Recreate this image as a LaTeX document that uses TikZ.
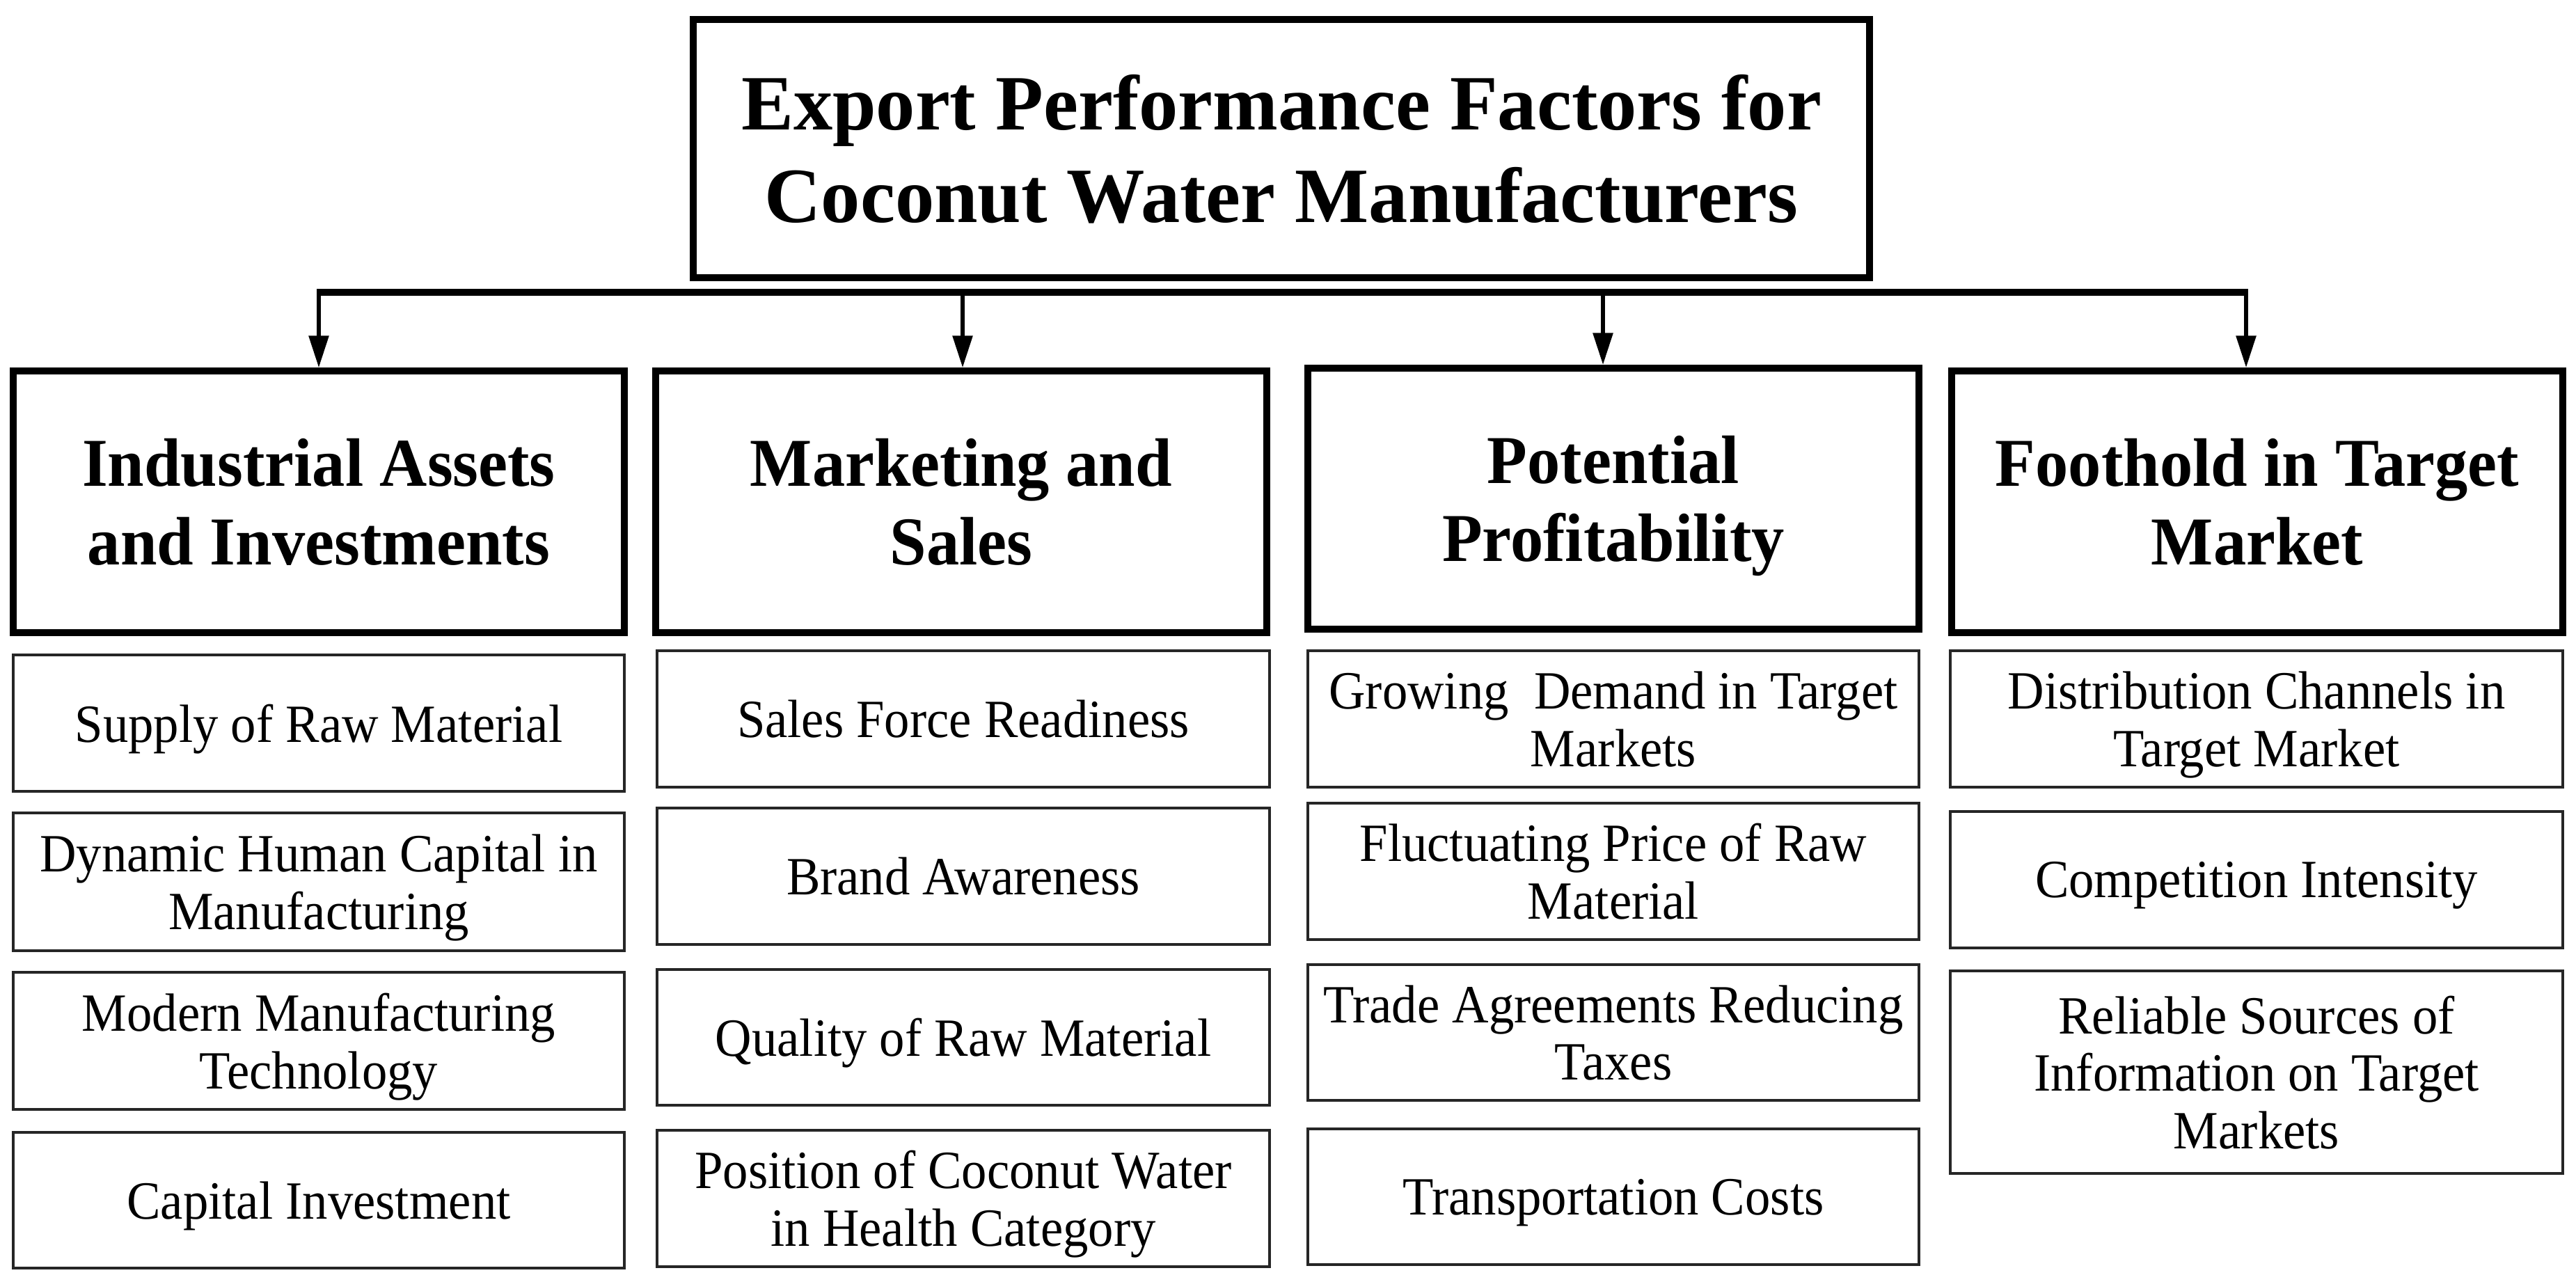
\documentclass[tikz,border=0pt]{standalone}
\usepackage{fontspec}
\setmainfont{Liberation Serif}
\newfontfamily\itemfont[FakeStretch=0.94]{Liberation Serif}
\newfontfamily\headfont[FakeStretch=0.96]{Liberation Serif}
\newfontfamily\titlefont{Liberation Serif}
\usetikzlibrary{arrows.meta}
\newcommand\pboxat[7]{%
  \node[#1, minimum width={(#5-#3)*0.28453pt}, minimum height={(#6-#4)*0.28453pt}]
    (#2) at ({(#3+#5)/200},{-(#4+#6)/200}) {#7};}
\tikzset{
  base/.style={draw=black, rectangle, align=center, inner sep=2pt, fill=white},
  titlebox/.style={base, line width=2.8pt, text depth=-4pt, font={\titlefont\bfseries\fontsize{32}{38}\selectfont}},
  headbox/.style={base, line width=2.8pt, text depth=0pt, font={\headfont\bfseries\fontsize{28}{32}\selectfont}},
  itembox/.style={base, draw=black!85, line width=1.2pt, text depth=0pt, font={\itemfont\fontsize{22}{23.5}\selectfont}},
  busline/.style={line width=2.8pt},
  downarrow/.style={line width=1.5pt, -{Triangle[length=13pt,width=8pt]}}
}
\begin{document}
\begin{tikzpicture}
\useasboundingbox (0,0) rectangle (37.01,-18.41);
% title
\pboxat{titlebox}{title}{996}{28}{2686}{399}{Export Performance Factors for\\Coconut Water Manufacturers}
% headers
\pboxat{headbox}{h1}{19}{533}{897}{909}{Industrial Assets\\and Investments}
\pboxat{headbox}{h2}{942}{533}{1820}{909}{Marketing and\\Sales}
\pboxat{headbox}{h3}{1879}{529}{2757}{904}{Potential\\Profitability}
\pboxat{headbox}{h4}{2804}{533}{3682}{909}{Foothold in Target\\Market}
% column 1
\pboxat{itembox}{a1}{19}{941}{897}{1137}{Supply of Raw Material}
\pboxat{itembox}{a2}{19}{1168}{897}{1366}{Dynamic Human Capital in\\Manufacturing}
\pboxat{itembox}{a3}{19}{1397}{897}{1594}{Modern Manufacturing\\Technology}
\pboxat{itembox}{a4}{19}{1627}{897}{1822}{Capital Investment}
% column 2
\pboxat{itembox}{b1}{944}{935}{1824}{1131}{Sales Force Readiness}
\pboxat{itembox}{b2}{944}{1161}{1824}{1357}{Brand Awareness}
\pboxat{itembox}{b3}{944}{1393}{1824}{1588}{Quality of Raw Material}
\pboxat{itembox}{b4}{944}{1624}{1824}{1820}{Position of Coconut Water\\in Health Category}
% column 3
\pboxat{itembox}{c1}{1879}{935}{2757}{1131}{Growing\ \ Demand in Target\\Markets}
\pboxat{itembox}{c2}{1879}{1154}{2757}{1350}{Fluctuating Price of Raw\\Material}
\pboxat{itembox}{c3}{1879}{1386}{2757}{1581}{Trade Agreements Reducing\\Taxes}
\pboxat{itembox}{c4}{1879}{1622}{2757}{1817}{Transportation Costs}
% column 4
\pboxat{itembox}{d1}{2802}{935}{3682}{1131}{Distribution Channels in\\Target Market}
\pboxat{itembox}{d2}{2802}{1166}{3682}{1362}{Competition Intensity}
\pboxat{itembox}{d3}{2802}{1395}{3682}{1686}{Reliable Sources of\\Information on Target\\Markets}
% bus and arrows
\coordinate (j1) at (4.58,-4.20);
\coordinate (j2) at (13.83,-4.20);
\coordinate (j3) at (23.03,-4.20);
\coordinate (j4) at (32.27,-4.20);
\draw[busline] ([xshift=-0.75pt]j1) -- ([xshift=0.75pt]j4);
\draw[downarrow] (j1) -- (j1 |- h1.north);
\draw[downarrow] (j2) -- (j2 |- h2.north);
\draw[downarrow] (j3) -- (j3 |- h3.north);
\draw[downarrow] (j4) -- (j4 |- h4.north);
\end{tikzpicture}
\end{document}
